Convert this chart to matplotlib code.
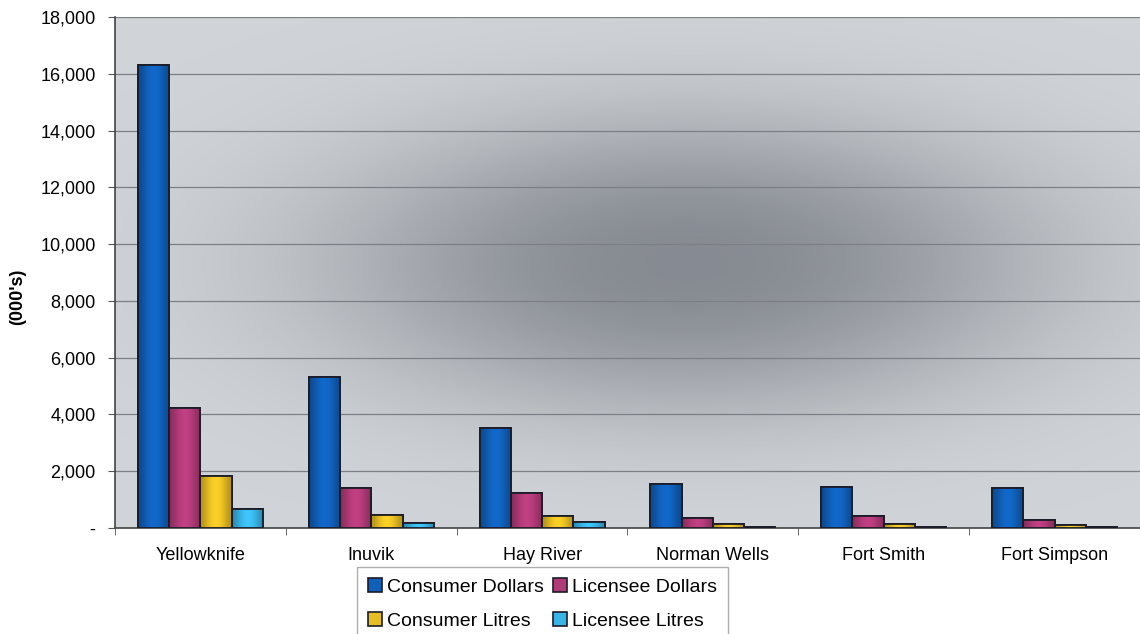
import numpy as np
import matplotlib.pyplot as plt
from matplotlib.patches import Rectangle
from matplotlib.colors import to_rgb
from matplotlib.ticker import FuncFormatter, FixedLocator

plt.rcParams['font.family'] = ['Liberation Sans', 'DejaVu Sans']

cities = ['Yellowknife', 'Inuvik', 'Hay River', 'Norman Wells', 'Fort Smith', 'Fort Simpson']
series = ['Consumer Dollars', 'Licensee Dollars', 'Consumer Litres', 'Licensee Litres']
consumer_dollars = [16300, 5320, 3530, 1550, 1450, 1420]
licensee_dollars = [4230, 1410, 1230, 340, 420, 280]
consumer_litres = [1830, 460, 420, 150, 150, 100]
licensee_litres = [670, 180, 220, 50, 50, 50]
values = [consumer_dollars, licensee_dollars, consumer_litres, licensee_litres]
colors = ['#105fb8', '#b03a78', '#e6bd22', '#38b4e6']

fig = plt.figure(figsize=(11.4, 6.34), dpi=100)
fig.patch.set_facecolor('white')
ax = fig.add_axes([115 / 1140, 1 - 528 / 634, 1 - 115 / 1140, (528 - 17) / 634])
ax.set_facecolor('#d0d4d8')

# soft dark shading behind the bars
gx, gy = np.meshgrid(np.linspace(-0.5, 5.5, 300), np.linspace(0, 18000, 200))
shade = np.exp(-(((gx - 2.85) / 2.1) ** 2 + ((gy - 9300) / 5200) ** 2) ** 1.2)
bg = np.zeros((200, 300, 4))
bg[..., :3] = to_rgb('#555963')
bg[..., 3] = 0.6 * shade
ax.imshow(bg, extent=(-0.5, 5.5, 0, 18000), origin='lower', aspect='auto',
          zorder=0.5, interpolation='bilinear')

ax.yaxis.grid(True, color='#7c7f86', linewidth=0.9, zorder=1)
ax.set_axisbelow(True)

x = np.arange(len(cities))
w = 0.183
t = np.linspace(0, 1, 64)
profile = 0.78 + 0.32 * np.sin(np.pi * t) ** 1.5
for i, (vals, col) in enumerate(zip(values, colors)):
    bars = ax.bar(x + (i - 1.5) * w, vals, width=w, color=col,
                  edgecolor='#1b1c28', linewidth=1.3, zorder=3, label=series[i])
    base = np.array(to_rgb(col))
    strip = np.clip(base[None, :] * profile[:, None], 0, 1)[None, :, :]
    for b in bars:
        im = ax.imshow(strip, extent=(b.get_x(), b.get_x() + b.get_width(), 0, b.get_height()),
                       aspect='auto', zorder=3.1, interpolation='bilinear')
        im.set_clip_path(b)
        edge = Rectangle((b.get_x(), 0), b.get_width(), b.get_height(), fill=False,
                         edgecolor='#1b1c28', linewidth=1.3, zorder=3.2)
        ax.add_patch(edge)

ax.set_xlim(-0.5, 5.5)
ax.set_ylim(0, 18000)
ax.set_yticks(np.arange(0, 18001, 2000))
ax.yaxis.set_major_formatter(FuncFormatter(lambda v, p: '-' if v == 0 else f'{int(v):,}'))
ax.tick_params(axis='y', labelsize=13, length=5, pad=9, color='#555555')

ax.set_xticks(x)
ax.set_xticklabels(cities, fontsize=13)
ax.tick_params(axis='x', which='major', length=0, pad=14)
ax.xaxis.set_minor_locator(FixedLocator(np.arange(-0.5, 5.6, 1)))
ax.tick_params(axis='x', which='minor', length=5, color='#555555')

for s in ['top', 'right']:
    ax.spines[s].set_visible(False)
for s in ['left', 'bottom']:
    ax.spines[s].set_color('#444444')
    ax.spines[s].set_linewidth(1.2)

fig.text(18 / 1140, 1 - 297 / 634, "(000's)", rotation=90, ha='center', va='center',
         fontsize=13, fontweight='bold')

# legend filled row by row: dollars on the first row, litres on the second
order = [0, 2, 1, 3]
handles = [Rectangle((0, 0), 1, 1, facecolor=colors[k], edgecolor='#1b1c28', linewidth=1.2)
           for k in order]
leg = fig.legend(handles, [series[k] for k in order], ncol=2, loc='upper left',
                 bbox_to_anchor=(357 / 1140, 1 - 567 / 634), fontsize=14,
                 frameon=True, fancybox=False, edgecolor='#9a9a9a',
                 handlelength=0.75, handleheight=0.75, handletextpad=0.25,
                 columnspacing=0.45, labelspacing=0.85, borderpad=0.55, borderaxespad=0)
leg.get_frame().set_linewidth(1.0)

fig.savefig('out.png', dpi=100)
